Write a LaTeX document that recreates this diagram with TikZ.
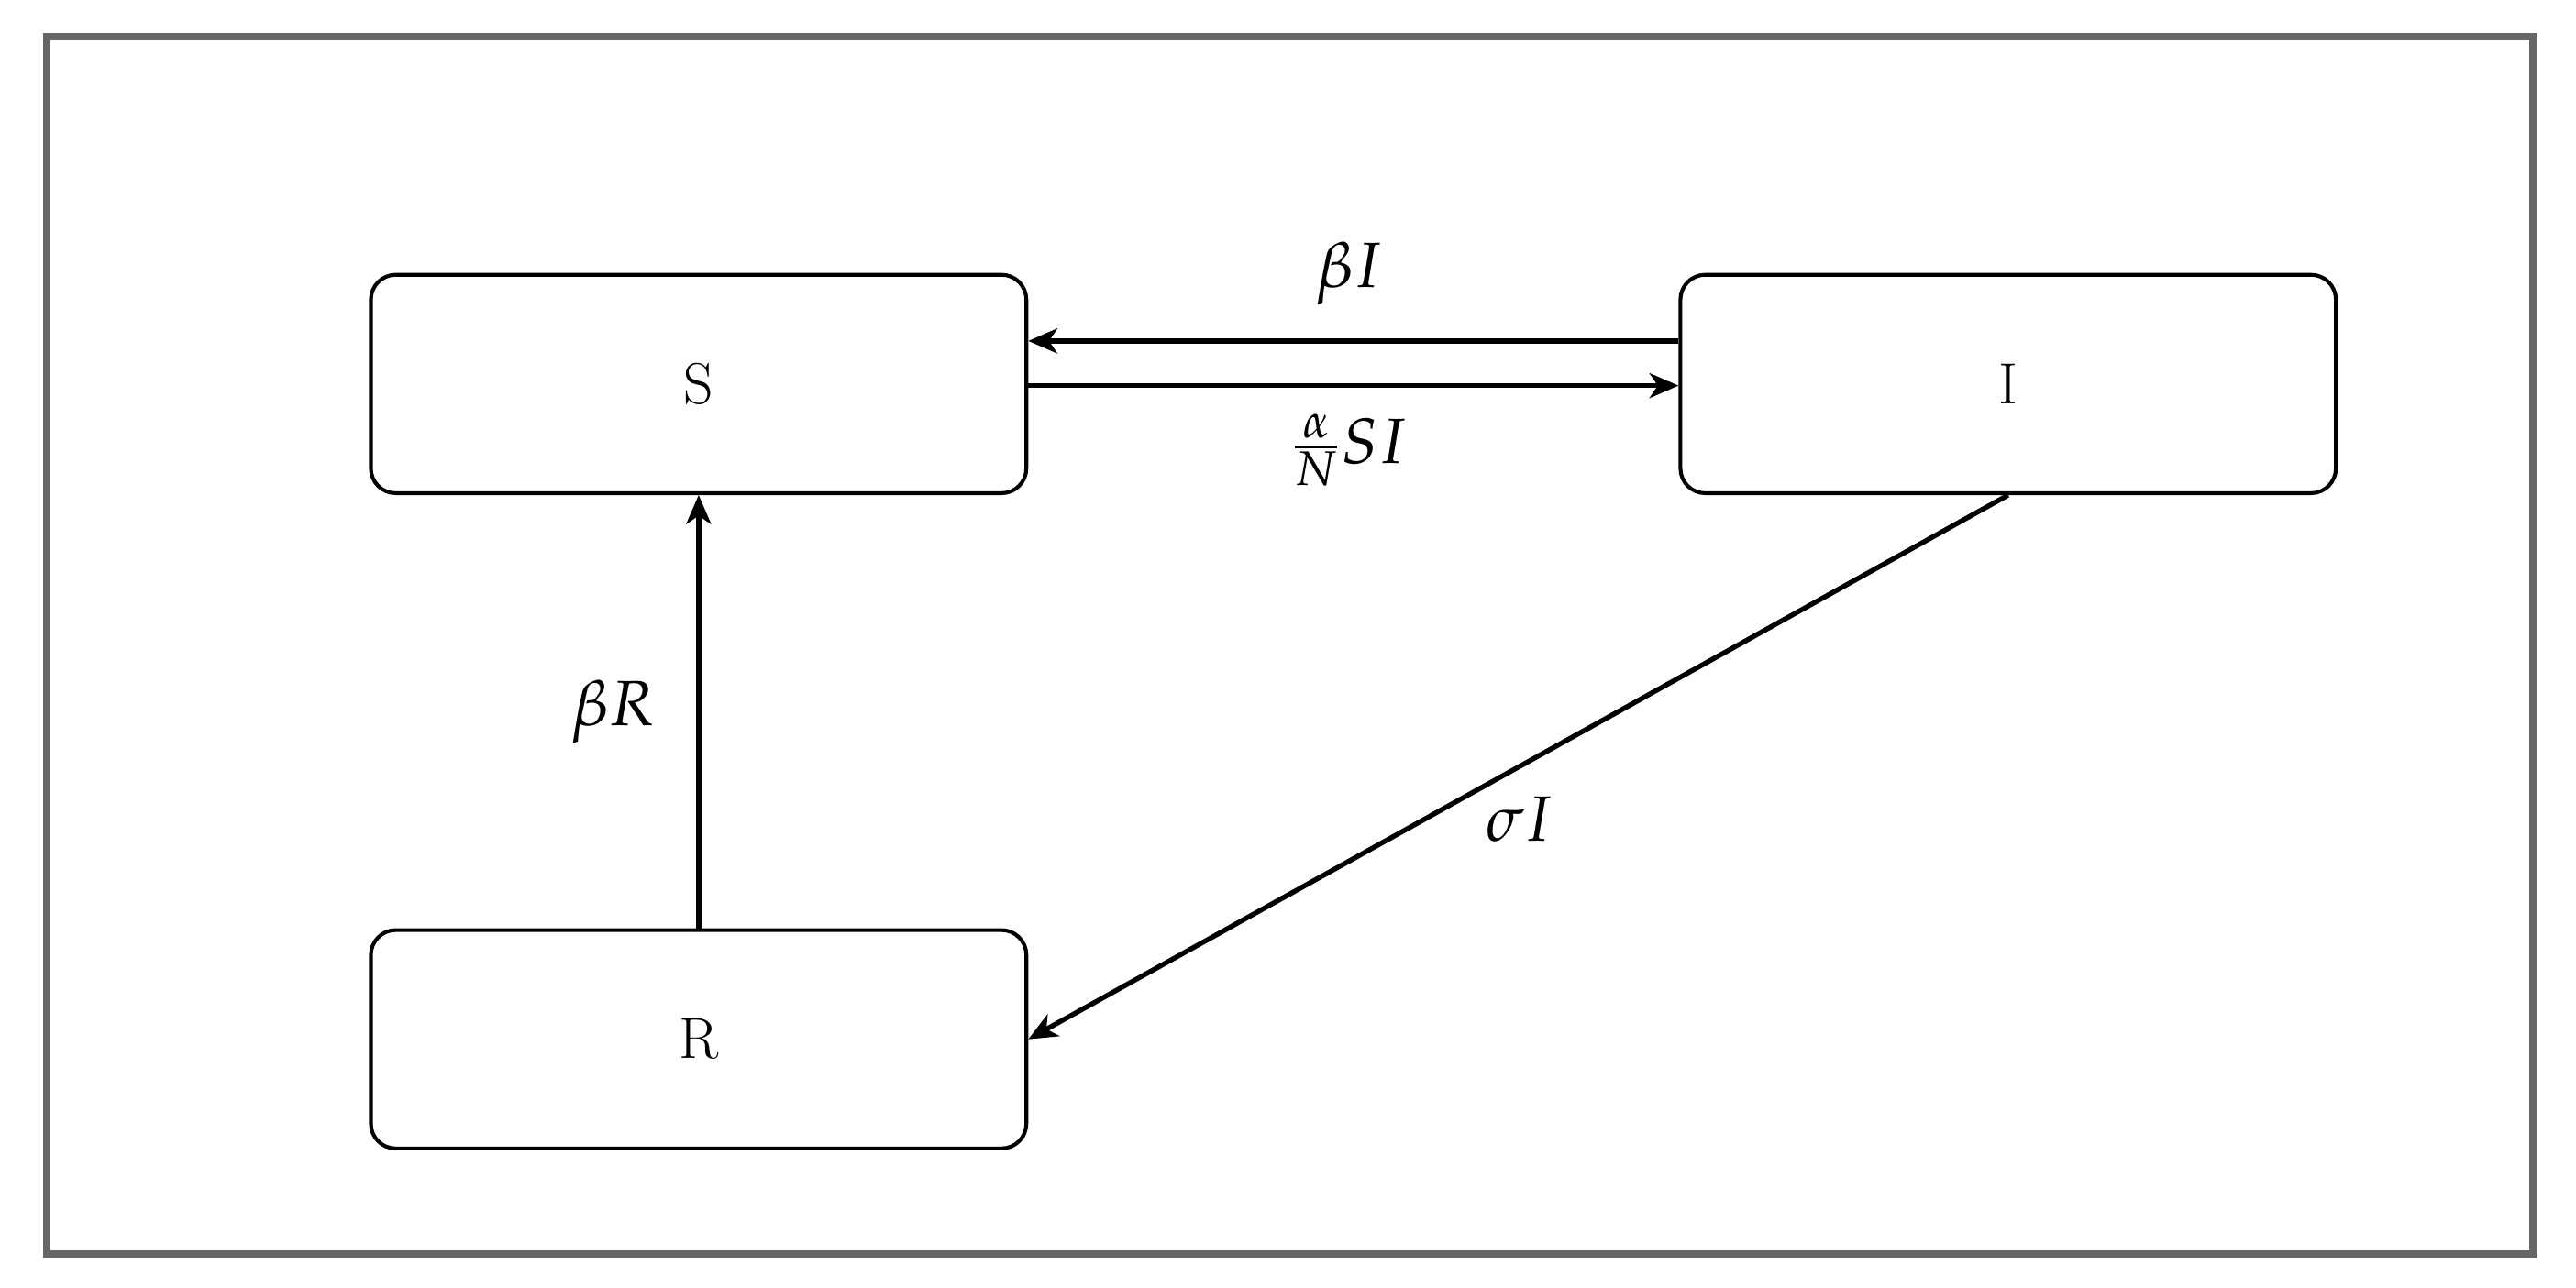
\documentclass[tikz,border=0pt]{standalone}
\usepackage{mathpazo}
\usetikzlibrary{arrows.meta}
\begin{document}
\begin{tikzpicture}[x=0.02cm,y=-0.02cm,
  box/.style={draw,line width=1.3pt,rounded corners=0.3cm,minimum width=7.92cm,minimum height=2.64cm,font=\fontsize{20}{24}\selectfont\bfseries},
  arr/.style={line width=1.7pt,-{Stealth[length=0.35cm,width=0.3cm,inset=0.1cm]}},
  lab/.style={font=\fontsize{22}{26}\selectfont}]
\useasboundingbox (0,0) rectangle (1556,778);
\draw[gray!80!black,line width=2.5pt] (28,22) rectangle (1530,758);
\node[box] (S) at (422,232) {S};
\node[box] (I) at (1213,232) {I};
\node[box] (R) at (422,628) {R};
\draw[arr] (I.west|-0,206) coordinate (a) -- (S.east|-0,206);
\draw[arr] (S.east|-0,233) -- (I.west|-0,233);
\draw[arr] (R.north) -- (S.south);
\draw[arr] (I.south) -- (R.east);
\node[lab] (l1) at (815,165) {$\beta I$};
\node[lab] (l2) at (815,272) {$\frac{\alpha}{N}SI$};
\node[lab] (l3) at (370,430) {$\beta R$};
\node[lab] (l4) at (918,495) {$\sigma I$};
\end{tikzpicture}
\end{document}
